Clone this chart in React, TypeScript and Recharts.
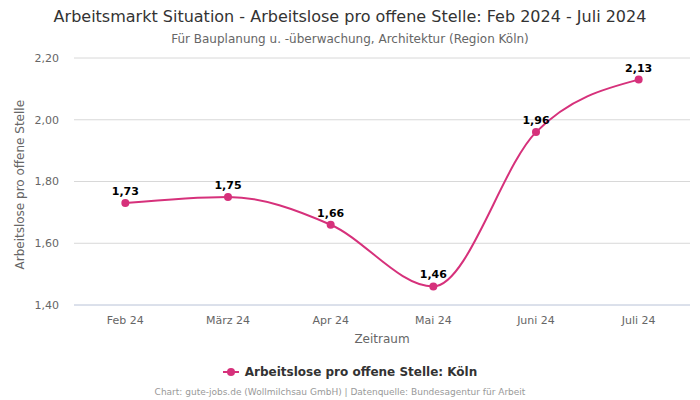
import { LineChart, Line, XAxis, YAxis, CartesianGrid, LabelList } from 'recharts'

const months = ['Feb 24', 'März 24', 'Apr 24', 'Mai 24', 'Juni 24', 'Juli 24']
const values = [1.73, 1.75, 1.66, 1.46, 1.96, 2.13]
const yTicks = [1.4, 1.6, 1.8, 2.0, 2.2]

const COLORS = {
  line: '#d6317b',
  grid: '#d8d8d8',
  axis: '#ccd6eb',
  text: '#666666',
  title: '#333333',
  footer: '#999999',
}

const FONT = '"DejaVu Sans", sans-serif'

const data = months.map((m, i) => ({ month: m, value: values[i] }))

const fmt = (v: number) => v.toFixed(2).replace('.', ',')

export default function App() {
  return (
    <div style={{ position: 'absolute', left: 0, top: 0, width: 700, height: 400, fontFamily: FONT, background: '#fff' }}>
      <div style={{ position: 'absolute', top: 7, width: 700, textAlign: 'center', fontSize: 16, color: COLORS.title }}>
        Arbeitsmarkt Situation - Arbeitslose pro offene Stelle: Feb 2024 - Juli 2024
      </div>
      <div style={{ position: 'absolute', top: 32, width: 700, textAlign: 'center', fontSize: 12, color: COLORS.text }}>
        Für Bauplanung u. -überwachung, Architektur (Region Köln)
      </div>
      <LineChart
        width={700}
        height={400}
        data={data}
        margin={{ top: 58, right: 10, left: 0, bottom: 45 }}
      >
        <CartesianGrid stroke={COLORS.grid} vertical={false} />
        <XAxis
          dataKey="month"
          scale="band"
          height={50}
          tick={{ fill: COLORS.text, fontSize: 11, fontFamily: FONT }}
          tickLine={false}
          axisLine={{ stroke: COLORS.axis }}
          tickMargin={5}
          label={{ value: 'Zeitraum', position: 'insideBottom', offset: 12, fill: COLORS.text, fontSize: 12, fontFamily: FONT }}
        />
        <YAxis
          domain={[1.4, 2.2]}
          ticks={yTicks}
          width={74}
          tickFormatter={fmt}
          tick={{ fill: COLORS.text, fontSize: 11, fontFamily: FONT }}
          tickLine={false}
          axisLine={false}
          tickMargin={9}
          label={{ value: 'Arbeitslose pro offene Stelle', angle: -90, position: 'insideLeft', offset: 20, dy: 88, fill: COLORS.text, fontSize: 12, fontFamily: FONT }}
        />
        <Line
          type="monotone"
          dataKey="value"
          stroke={COLORS.line}
          strokeWidth={2}
          dot={{ r: 4, fill: COLORS.line, stroke: COLORS.line, strokeWidth: 0 }}
          activeDot={false}
          isAnimationActive={false}
        >
          <LabelList
            dataKey="value"
            position="top"
            offset={8}
            formatter={(v: number) => fmt(v)}
            style={{ fill: '#000', fontSize: 11, fontWeight: 'bold', fontFamily: FONT }}
          />
        </Line>
      </LineChart>
      <div style={{ position: 'absolute', top: 365, width: 700, display: 'flex', justifyContent: 'center', alignItems: 'center', gap: 6 }}>
        <svg width={16} height={10}>
          <line x1={0} y1={5} x2={16} y2={5} stroke={COLORS.line} strokeWidth={2} />
          <circle cx={8} cy={5} r={4} fill={COLORS.line} />
        </svg>
        <span style={{ fontSize: 12, fontWeight: 'bold', color: COLORS.title }}>Arbeitslose pro offene Stelle: Köln</span>
      </div>
      <div style={{ position: 'absolute', top: 387, left: -10, width: 700, textAlign: 'center', fontSize: 9, color: COLORS.footer }}>
        Chart: gute-jobs.de (Wollmilchsau GmbH) | Datenquelle: Bundesagentur für Arbeit
      </div>
    </div>
  )
}
